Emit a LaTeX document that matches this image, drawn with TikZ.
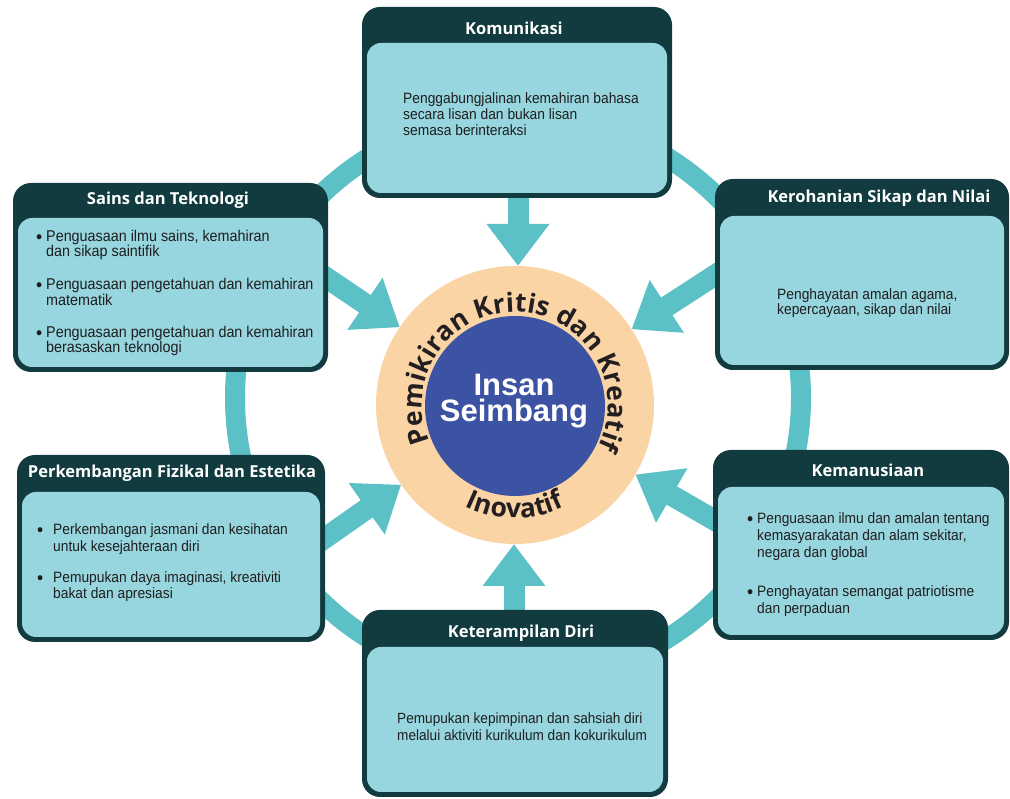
\documentclass[tikz,border=0pt]{standalone}
\usepackage{fontspec}
\setmainfont{Liberation Sans}
\newfontfamily\bodyfont{Liberation Sans}[FakeStretch=0.92]
\newfontfamily\headfont{Open Sans}
\newfontfamily\ctrfont{Liberation Sans}
\usetikzlibrary{arrows.meta,decorations.text,calc}
\definecolor{teal1}{HTML}{5CC0C7}
\definecolor{light1}{HTML}{97D5DF}
\definecolor{dark1}{HTML}{123B3F}
\definecolor{peach1}{HTML}{FBD4A6}
\definecolor{blue1}{HTML}{3C53A4}
\definecolor{txt1}{HTML}{1E1E1E}
\definecolor{ringtxt}{HTML}{231F20}
\newcommand\ringfmt{\headfont\bfseries\fontsize{26.5}{26.5}\selectfont\color{ringtxt}}
\newcommand\bu[1]{\makebox[#1][l]{\raisebox{-2pt}{\fontsize{19}{14}\selectfont •}}}
\begin{document}
\begin{tikzpicture}[x=1pt,y=1pt,
  bigarrow/.style={draw=teal1, line width=21pt, -{Triangle[width=60pt,length=42pt]}},
  outerbox/.style={fill=dark1, rounded corners=18pt, inner sep=0pt, outer sep=0pt, anchor=north west},
  innerbox/.style={fill=light1, rounded corners=14pt},
  title/.style={text=white, font=\headfont\bfseries\fontsize{16.5}{16.5}\selectfont, inner sep=0pt},
  body/.style={text=txt1, align=left, inner sep=0pt, anchor=west},
]
\useasboundingbox (0,0) rectangle (1010,799);
% connecting ring
\node[circle, draw=teal1, line width=20pt, minimum size=566pt, inner sep=0pt] (ring) at (518,401) {};
% centre
\node[circle, fill=peach1, minimum size=278pt, inner sep=0pt, outer sep=0pt] (c) at (515,394) {};
\node[circle, fill=blue1, minimum size=180pt, inner sep=0pt, outer sep=0pt] (core) at (515,393) {};
\node[text=white, align=center, inner sep=0pt, font=\ctrfont\bfseries\fontsize{31}{26}\selectfont] (insan) at (514,398) {Insan\\Seimbang};
\path[decorate, decoration={text along path, text={|\ringfmt|Pemikiran Kritis dan Kreatif}, text align={fit to path}}]
  ($(c.center)+(203:93)$) arc[start angle=203, end angle=-27, radius=93pt];
\path[decorate, decoration={text along path, text={|\ringfmt|Inovatif}, text align=center}]
  ($(c.center)+(232:113)$) arc[start angle=232, end angle=308, radius=113pt];
% arrows
\coordinate (sT) at (518,640);
\coordinate (sB) at (514,170);
\coordinate (sUL) at ($(c.center)+(146:255)$);
\coordinate (sUR) at ($(c.center)+(33:255)$);
\coordinate (sLL) at ($(c.center)+(215:255)$);
\coordinate (sLR) at ($(c.center)+(330:255)$);
\draw[bigarrow] (sT) -- (sT |- c.north);
\draw[bigarrow] (sB) -- (sB |- c.south);
\draw[bigarrow] (sUL) -- (c.146);
\draw[bigarrow] (sUR) -- (c.33);
\draw[bigarrow] (sLL) -- (c.215);
\draw[bigarrow] (sLR) -- (c.330);
% boxes
\node[outerbox, minimum width=310pt, minimum height=191pt] (kom) at (362,792) {};
\fill[innerbox] (367,606) rectangle (667,756);
\node[outerbox, minimum width=315pt, minimum height=189pt] (sains) at (13,616) {};
\fill[innerbox] (18,432) rectangle (323,581);
\node[outerbox, minimum width=294pt, minimum height=191pt] (ker) at (715,620) {};
\fill[innerbox] (720,434) rectangle (1004,583);
\node[outerbox, minimum width=308pt, minimum height=187pt] (perk) at (17,344) {};
\fill[innerbox] (22,162) rectangle (320,307);
\node[outerbox, minimum width=296pt, minimum height=190pt] (kem) at (713,349) {};
\fill[innerbox] (718,164) rectangle (1004,312);
\node[outerbox, minimum width=306pt, minimum height=187pt] (ket) at (362,189) {};
\fill[innerbox] (367,7) rectangle (663,152);
% titles
\node[title] (komT) at (514,771) {Komunikasi};
\node[title] (sainsT) at (168,599) {Sains dan Teknologi};
\node[title] (kerT) at (879,601) {Kerohanian Sikap dan Nilai};
\node[title] (perkT) at (172,326) {Perkembangan Fizikal dan Estetika};
\node[title] (kemT) at (868,329) {Kemanusiaan};
\node[title] (ketT) at (521,166) {Keterampilan Diri};
% bodies
\node[body, font=\bodyfont\fontsize{15}{16}\selectfont] (komB) at (403,685)
  {Penggabungjalinan kemahiran bahasa\\secara lisan dan bukan lisan\\semasa berinteraksi};
\node[body, font=\bodyfont\fontsize{15.6}{14}\selectfont] (sainsB) at (36,506)
  {\bu{10pt}Penguasaan ilmu sains, kemahiran\\\hspace*{10pt}dan sikap saintifik\\[17pt]
   \bu{10pt}Penguasaan pengetahuan dan kemahiran\\\hspace*{10pt}matematik\\[18pt]
   \bu{10pt}Penguasaan pengetahuan dan kemahiran\\\hspace*{10pt}berasaskan teknologi};
\node[body, font=\bodyfont\fontsize{15}{15}\selectfont] (kerB) at (777,496)
  {Penghayatan amalan agama,\\kepercayaan, sikap dan nilai};
\node[body, font=\bodyfont\fontsize{15}{16.7}\selectfont] (perkB) at (37,236)
  {\bu{16pt}Perkembangan jasmani dan kesihatan\\\hspace*{16pt}untuk kesejahteraan diri\\[14pt]
   \bu{16pt}Pemupukan daya imaginasi, kreativiti\\\hspace*{16pt}bakat dan apresiasi};
\node[body, font=\bodyfont\fontsize{15}{17}\selectfont] (kemB) at (747,234)
  {\bu{10pt}Penguasaan ilmu dan amalan tentang\\\hspace*{10pt}kemasyarakatan dan alam sekitar,\\\hspace*{10pt}negara dan global\\[22pt]
   \bu{10pt}Penghayatan semangat patriotisme\\\hspace*{10pt}dan perpaduan};
\node[body, font=\bodyfont\fontsize{14.8}{17}\selectfont] (ketB) at (397,72.5)
  {Pemupukan kepimpinan dan sahsiah diri\\melalui aktiviti kurikulum dan kokurikulum};
\end{tikzpicture}
\end{document}
